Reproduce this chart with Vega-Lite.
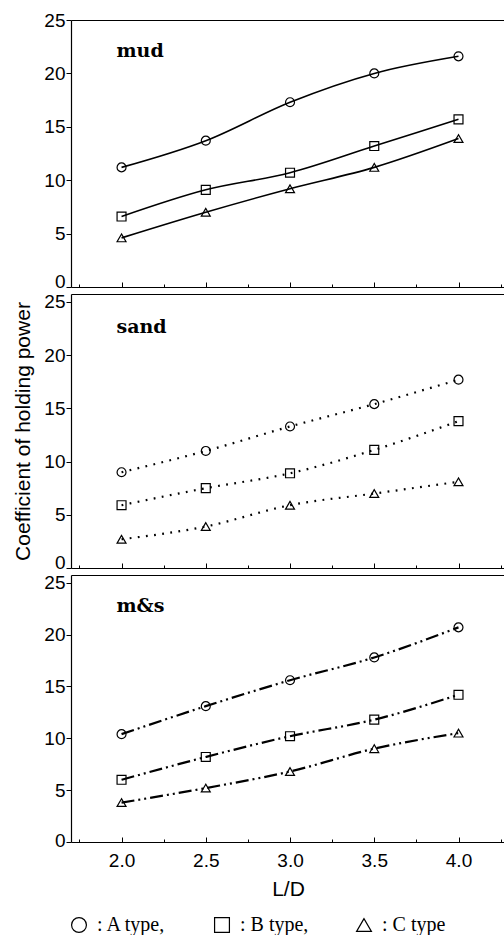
{
  "$schema": "https://vega.github.io/schema/vega-lite/v6.json",
  "padding": {"left": 12, "top": 11, "right": 0, "bottom": 0},
  "bounds": "flush",
  "spacing": 7,
  "background": "white",
  "data": {
    "values": [
      {"panel": "mud", "type": "A type", "ld": 2.0, "value": 11.2},
      {"panel": "mud", "type": "A type", "ld": 2.5, "value": 13.7},
      {"panel": "mud", "type": "A type", "ld": 3.0, "value": 17.3},
      {"panel": "mud", "type": "A type", "ld": 3.5, "value": 20.0},
      {"panel": "mud", "type": "A type", "ld": 4.0, "value": 21.6},
      {"panel": "mud", "type": "B type", "ld": 2.0, "value": 6.6},
      {"panel": "mud", "type": "B type", "ld": 2.5, "value": 9.1},
      {"panel": "mud", "type": "B type", "ld": 3.0, "value": 10.7},
      {"panel": "mud", "type": "B type", "ld": 3.5, "value": 13.2},
      {"panel": "mud", "type": "B type", "ld": 4.0, "value": 15.7},
      {"panel": "mud", "type": "C type", "ld": 2.0, "value": 4.6},
      {"panel": "mud", "type": "C type", "ld": 2.5, "value": 7.0},
      {"panel": "mud", "type": "C type", "ld": 3.0, "value": 9.2},
      {"panel": "mud", "type": "C type", "ld": 3.5, "value": 11.2},
      {"panel": "mud", "type": "C type", "ld": 4.0, "value": 13.9},
      {"panel": "sand", "type": "A type", "ld": 2.0, "value": 9.0},
      {"panel": "sand", "type": "A type", "ld": 2.5, "value": 11.0},
      {"panel": "sand", "type": "A type", "ld": 3.0, "value": 13.3},
      {"panel": "sand", "type": "A type", "ld": 3.5, "value": 15.4},
      {"panel": "sand", "type": "A type", "ld": 4.0, "value": 17.7},
      {"panel": "sand", "type": "B type", "ld": 2.0, "value": 5.9},
      {"panel": "sand", "type": "B type", "ld": 2.5, "value": 7.5},
      {"panel": "sand", "type": "B type", "ld": 3.0, "value": 8.9},
      {"panel": "sand", "type": "B type", "ld": 3.5, "value": 11.1},
      {"panel": "sand", "type": "B type", "ld": 4.0, "value": 13.8},
      {"panel": "sand", "type": "C type", "ld": 2.0, "value": 2.7},
      {"panel": "sand", "type": "C type", "ld": 2.5, "value": 3.9},
      {"panel": "sand", "type": "C type", "ld": 3.0, "value": 5.9},
      {"panel": "sand", "type": "C type", "ld": 3.5, "value": 7.0},
      {"panel": "sand", "type": "C type", "ld": 4.0, "value": 8.1},
      {"panel": "m&s", "type": "A type", "ld": 2.0, "value": 10.4},
      {"panel": "m&s", "type": "A type", "ld": 2.5, "value": 13.1},
      {"panel": "m&s", "type": "A type", "ld": 3.0, "value": 15.6},
      {"panel": "m&s", "type": "A type", "ld": 3.5, "value": 17.8},
      {"panel": "m&s", "type": "A type", "ld": 4.0, "value": 20.7},
      {"panel": "m&s", "type": "B type", "ld": 2.0, "value": 6.0},
      {"panel": "m&s", "type": "B type", "ld": 2.5, "value": 8.2},
      {"panel": "m&s", "type": "B type", "ld": 3.0, "value": 10.2},
      {"panel": "m&s", "type": "B type", "ld": 3.5, "value": 11.8},
      {"panel": "m&s", "type": "B type", "ld": 4.0, "value": 14.2},
      {"panel": "m&s", "type": "C type", "ld": 2.0, "value": 3.8},
      {"panel": "m&s", "type": "C type", "ld": 2.5, "value": 5.2},
      {"panel": "m&s", "type": "C type", "ld": 3.0, "value": 6.8},
      {"panel": "m&s", "type": "C type", "ld": 3.5, "value": 9.0},
      {"panel": "m&s", "type": "C type", "ld": 4.0, "value": 10.5}
    ]
  },
  "vconcat": [
    {
      "width": 434,
      "height": 267,
      "layer": [
        {
          "transform": [{"filter": "datum.panel == 'mud'"}],
          "mark": {"type": "line", "interpolate": "monotone", "color": "black", "strokeWidth": 1.6},
          "encoding": {
            "x": {"field": "ld", "type": "quantitative", "scale": {"domain": [1.7, 4.276], "nice": false, "zero": false},
              "axis": {"orient": "bottom", "values": [1.75, 2, 2.25, 2.5, 2.75, 3, 3.25, 3.5, 3.75, 4, 4.25], "labels": false, "title": null,
                "tickSize": {"condition": {"test": "datum.value % 0.5 != 0", "value": -3}, "value": -5}}},
            "y": {"field": "value", "type": "quantitative", "scale": {"domain": [0, 25], "nice": false},
              "axis": {"values": [0, 2.5, 5, 7.5, 10, 12.5, 15, 17.5, 20, 22.5, 25], "labelExpr": "datum.value % 5 == 0 ? datum.label : ''",
                "labelOffset": {"condition": {"test": "datum.value == 0", "value": -6}, "value": 0},
                "tickSize": {"condition": {"test": "datum.value % 5 != 0", "value": 3}, "value": 5}, "labelPadding": 1, "title": null}},
            "detail": {"field": "type"}
          }
        },
        {
          "transform": [{"filter": "datum.panel == 'mud'"}],
          "mark": {"type": "point", "filled": false, "color": "black", "strokeWidth": 1.2, "size": 80, "opacity": 1},
          "encoding": {
            "x": {"field": "ld", "type": "quantitative", "axis": {"orient": "top", "labels": false, "ticks": false, "title": null}},
            "y": {"field": "value", "type": "quantitative"},
            "shape": {"field": "type", "type": "nominal", "scale": {"domain": ["A type", "B type", "C type"], "range": ["circle", "square", "triangle-up"]},
              "legend": {"orient": "none", "legendX": -2, "legendY": 895, "direction": "horizontal", "title": null,
                "labelExpr": "': ' + datum.label + (datum.label == 'C type' ? '' : ',')"}}
          }
        },
        {
          "transform": [{"filter": "datum.panel == 'mud' && datum.type == 'A type' && datum.ld == 2"}],
          "mark": {"type": "text", "align": "left", "baseline": "alphabetic", "font": "DejaVu Serif", "fontWeight": "bold", "fontSize": 19, "color": "black"},
          "encoding": {
            "x": {"datum": 1.97, "type": "quantitative", "axis": null},
            "y": {"datum": 21.5, "type": "quantitative"},
            "text": {"field": "panel"}
          }
        }
      ],
      "resolve": {"axis": {"x": "independent"}}
    },
    {
      "width": 434,
      "height": 274,
      "layer": [
        {
          "transform": [{"filter": "datum.panel == 'sand'"}],
          "mark": {"type": "line", "interpolate": "monotone", "color": "black", "strokeWidth": 2.2, "strokeDash": [1.8, 6.4]},
          "encoding": {
            "x": {"field": "ld", "type": "quantitative", "scale": {"domain": [1.7, 4.276], "nice": false, "zero": false},
              "axis": {"orient": "bottom", "values": [1.75, 2, 2.25, 2.5, 2.75, 3, 3.25, 3.5, 3.75, 4, 4.25], "labels": false, "title": null,
                "tickSize": {"condition": {"test": "datum.value % 0.5 != 0", "value": -3}, "value": -5}}},
            "y": {"field": "value", "type": "quantitative", "scale": {"domain": [0, 25.75], "nice": false},
              "axis": {"values": [0, 2.5, 5, 7.5, 10, 12.5, 15, 17.5, 20, 22.5, 25], "labelExpr": "datum.value % 5 == 0 ? datum.label : ''",
                "labelOffset": {"condition": {"test": "datum.value == 0", "value": -6}, "value": 0},
                "tickSize": {"condition": {"test": "datum.value % 5 != 0", "value": 3}, "value": 5}, "labelPadding": 1,
                "title": "Coefficient of holding power", "titlePadding": 10}},
            "detail": {"field": "type"}
          }
        },
        {
          "transform": [{"filter": "datum.panel == 'sand'"}],
          "mark": {"type": "point", "filled": false, "color": "black", "strokeWidth": 1.2, "size": 80, "opacity": 1},
          "encoding": {
            "x": {"field": "ld", "type": "quantitative", "axis": {"orient": "top", "labels": false, "ticks": false, "title": null}},
            "y": {"field": "value", "type": "quantitative"},
            "shape": {"field": "type", "type": "nominal", "scale": {"domain": ["A type", "B type", "C type"], "range": ["circle", "square", "triangle-up"]},
              "legend": {"orient": "none", "legendX": -2, "legendY": 895, "direction": "horizontal", "title": null,
                "labelExpr": "': ' + datum.label + (datum.label == 'C type' ? '' : ',')"}}
          }
        },
        {
          "transform": [{"filter": "datum.panel == 'sand' && datum.type == 'A type' && datum.ld == 2"}],
          "mark": {"type": "text", "align": "left", "baseline": "alphabetic", "font": "DejaVu Serif", "fontWeight": "bold", "fontSize": 19, "color": "black"},
          "encoding": {
            "x": {"datum": 1.97, "type": "quantitative", "axis": null},
            "y": {"datum": 22.1, "type": "quantitative"},
            "text": {"field": "panel"}
          }
        }
      ],
      "resolve": {"axis": {"x": "independent"}}
    },
    {
      "width": 434,
      "height": 267,
      "layer": [
        {
          "transform": [{"filter": "datum.panel == 'm&s'"}],
          "mark": {"type": "line", "interpolate": "monotone", "color": "black", "strokeWidth": 2.2, "strokeDash": [13, 4, 2, 4, 2, 4]},
          "encoding": {
            "x": {"field": "ld", "type": "quantitative", "scale": {"domain": [1.7, 4.276], "nice": false, "zero": false},
              "axis": {"orient": "bottom", "values": [1.75, 2, 2.25, 2.5, 2.75, 3, 3.25, 3.5, 3.75, 4, 4.25],
                "labelExpr": "datum.value % 0.5 == 0 ? format(datum.value, '.1f') : ''", "labelPadding": 14,
                "title": "L/D", "titlePadding": 6,
                "tickSize": {"condition": {"test": "datum.value % 0.5 != 0", "value": -3}, "value": -5}}},
            "y": {"field": "value", "type": "quantitative", "scale": {"domain": [0, 25.75], "nice": false},
              "axis": {"values": [0, 2.5, 5, 7.5, 10, 12.5, 15, 17.5, 20, 22.5, 25], "labelExpr": "datum.value % 5 == 0 ? datum.label : ''",
                "labelOffset": {"condition": {"test": "datum.value == 0", "value": -2}, "value": 0},
                "tickSize": {"condition": {"test": "datum.value % 5 != 0", "value": 3}, "value": 5}, "labelPadding": 1, "title": null}},
            "detail": {"field": "type"}
          }
        },
        {
          "transform": [{"filter": "datum.panel == 'm&s'"}],
          "mark": {"type": "point", "filled": false, "color": "black", "strokeWidth": 1.2, "size": 80, "opacity": 1},
          "encoding": {
            "x": {"field": "ld", "type": "quantitative", "axis": {"orient": "top", "labels": false, "ticks": false, "title": null}},
            "y": {"field": "value", "type": "quantitative"},
            "shape": {"field": "type", "type": "nominal", "scale": {"domain": ["A type", "B type", "C type"], "range": ["circle", "square", "triangle-up"]},
              "legend": {"orient": "none", "legendX": -2, "legendY": 895, "direction": "horizontal", "title": null,
                "labelExpr": "': ' + datum.label + (datum.label == 'C type' ? '' : ',')"}}
          }
        },
        {
          "transform": [{"filter": "datum.panel == 'm&s' && datum.type == 'A type' && datum.ld == 2"}],
          "mark": {"type": "text", "align": "left", "baseline": "alphabetic", "font": "DejaVu Serif", "fontWeight": "bold", "fontSize": 19, "color": "black"},
          "encoding": {
            "x": {"datum": 1.97, "type": "quantitative", "axis": null},
            "y": {"datum": 22.2, "type": "quantitative"},
            "text": {"field": "panel"}
          }
        }
      ],
      "resolve": {"axis": {"x": "independent"}}
    }
  ],
  "config": {
    "view": {"stroke": null},
    "axis": {
      "domainColor": "black", "domainWidth": 1.2, "tickColor": "black", "tickWidth": 1,
      "labelColor": "black", "titleColor": "black", "labelFont": "Liberation Sans", "titleFont": "Liberation Sans",
      "labelFontSize": 19, "titleFontSize": 21, "titleFontWeight": "normal", "grid": false,
      "labelFlush": false, "labelOverlap": false, "labelBound": false
    },
    "legend": {
      "labelFont": "Liberation Serif", "labelFontSize": 20, "labelColor": "black", "symbolSize": 220, "symbolStrokeWidth": 1.2,
      "symbolStrokeColor": "black", "symbolFillColor": "transparent", "symbolOpacity": 1, "columnPadding": 45, "labelOffset": 8,
      "labelLimit": 0
    }
  }
}
